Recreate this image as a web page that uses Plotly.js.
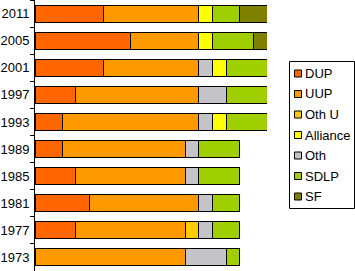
<!DOCTYPE html>
<html>
<head>
<meta charset="utf-8">
<script src="https://cdn.plot.ly/plotly-3.0.1.min.js"></script>
<style>
  body { margin: 0; background: #fff; }
  #chart { width: 355px; height: 271px; }
</style>
</head>
<body>
<div id="chart"></div>
<script>
// years top to bottom, seats per party
let years = ['2011', '2005', '2001', '1997', '1993', '1989', '1985', '1981', '1977', '1973'];
let DUP = [5, 7, 5, 3, 2, 2, 3, 4, 3, 0];
let UUP = [7, 5, 7, 9, 10, 9, 8, 8, 8, 11];
let OthU = [0, 0, 0, 0, 0, 0, 0, 0, 1, 0];
let Oth = [0, 0, 1, 2, 1, 1, 1, 1, 1, 3];
let Alliance = [1, 1, 1, 0, 1, 0, 0, 0, 0, 0];
let SDLP = [2, 3, 3, 3, 3, 3, 3, 2, 2, 1];
let SF = [2, 1, 0, 0, 0, 0, 0, 0, 0, 0];

// stacking order (left to right)
let series = [
    {name: 'DUP', y: DUP, color: '#FF6600'},
    {name: 'UUP', y: UUP, color: '#FF9900'},
    {name: 'Oth U', y: OthU, color: '#FFCC00'},
    {name: 'Oth', y: Oth, color: '#C4C4C8'},
    {name: 'Alliance', y: Alliance, color: '#FFFF00'},
    {name: 'SDLP', y: SDLP, color: '#9FCF00'},
    {name: 'SF', y: SF, color: '#808000'}
];
// legend order
let legendOrder = ['DUP', 'UUP', 'Oth U', 'Alliance', 'Oth', 'SDLP', 'SF'];

let traces = series.map(function (s) {
    return {
        type: 'bar',
        orientation: 'h',
        name: s.name,
        y: years,
        x: s.y,
        marker: {color: s.color, line: {color: '#000', width: 1}},
        showlegend: false,
        hoverinfo: 'x+name'
    };
});

// manual legend (the built-in one is too wide)
let L = 35, R = 88, W = 355 - L - R, H = 271;
function px(p) { return (p - L) / W; }
function py(p) { return 1 - p / H; }

let shapes = [{
    type: 'rect', xref: 'paper', yref: 'paper',
    x0: px(289.5), x1: px(354.5), y0: py(61.5), y1: py(208.5),
    line: {color: '#000', width: 1}, fillcolor: '#fff', layer: 'above'
}];
let annotations = [];
legendOrder.forEach(function (n, i) {
    let s = series.find(function (d) { return d.name == n; });
    let cy = 73.5 + i * 20.5;
    shapes.push({
        type: 'rect', xref: 'paper', yref: 'paper',
        x0: px(294.5), x1: px(301.5), y0: py(cy - 3.5), y1: py(cy + 3.5),
        line: {color: '#000', width: 1}, fillcolor: s.color, layer: 'above'
    });
    annotations.push({
        xref: 'paper', yref: 'paper', x: px(303), y: py(cy),
        xanchor: 'left', yanchor: 'middle', showarrow: false,
        text: n, font: {family: 'Liberation Sans, Arial, sans-serif', size: 13, color: '#000'}
    });
});

let layout = {
    width: 355,
    height: 271,
    margin: {l: L, r: R, t: 0, b: 0, pad: 0},
    paper_bgcolor: '#fff',
    plot_bgcolor: '#fff',
    barmode: 'stack',
    bargap: 0.37,
    showlegend: false,
    xaxis: {range: [0, 17], visible: false, fixedrange: true},
    yaxis: {
        type: 'category',
        autorange: 'reversed',
        showline: true,
        linecolor: '#000',
        linewidth: 1,
        ticks: 'outside',
        tickson: 'boundaries',
        ticklen: 4,
        tickcolor: '#000',
        ticklabelstandoff: 2,
        showgrid: false,
        zeroline: false,
        tickfont: {family: 'Liberation Sans, Arial, sans-serif', size: 13, color: '#000'},
        fixedrange: true
    },
    shapes: shapes,
    annotations: annotations
};

Plotly.newPlot('chart', traces, layout, {displayModeBar: false, staticPlot: true});
</script>
</body>
</html>
